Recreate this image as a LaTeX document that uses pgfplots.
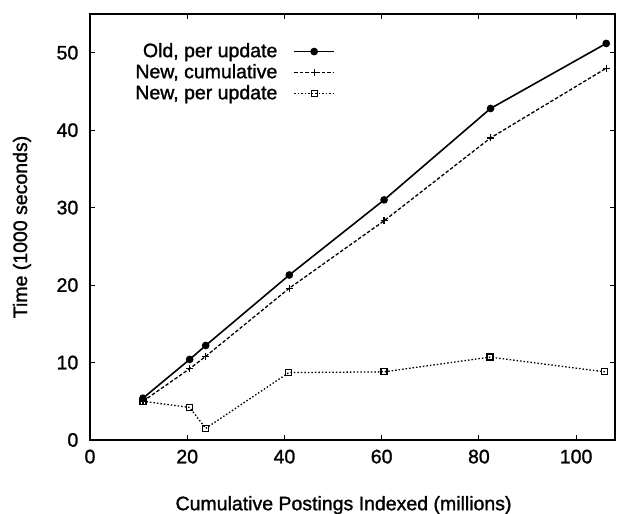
\documentclass[border=0pt]{standalone}
\usepackage{fontspec}
\setmainfont{Liberation Sans}[FakeBold=1.3]
\usepackage{pgfplots}
\pgfplotsset{compat=1.18}
\begin{document}
\fontsize{19.5bp}{22bp}\selectfont
\begin{tikzpicture}
\begin{axis}[
  scale only axis,
  width=525bp, height=426bp,
  xmin=0, xmax=108, ymin=0, ymax=55,
  xtick={0,20,40,60,80,100},
  ytick={0,10,20,30,40,50},
  /pgf/number format/assume math mode=true,
  tick style={black, line width=0.9bp},
  major tick length=5bp,
  axis line style={line width=1.2bp},
  xticklabel style={yshift=-3bp},
  yticklabel style={xshift=-5bp},
  every axis y label/.style={at={(axis description cs:-0.1295,0.5)},rotate=90,anchor=center},
  every axis x label/.style={at={(axis description cs:0.483,-0.153)},anchor=center},
  xlabel={Cumulative Postings Indexed (millions)},
  ylabel={Time (1000 seconds)},
  legend style={draw=none, fill=none, at={(axis description cs:0.467,0.937)}, anchor=north east,
    row sep=0bp, column sep=14bp, inner sep=0pt, font=\fontsize{19.5bp}{20bp}\selectfont},
  legend cell align=right,
  legend plot pos=right,
  legend image code/.code={\draw[mark repeat=2,mark phase=2,#1] plot coordinates {(0bp,0bp) (20bp,0bp) (40bp,0bp)};},
]
\addplot[black, line width=1.6bp, mark=*, mark size=3bp] coordinates {
 (10.9,5.4) (20.5,10.4) (23.8,12.2) (41,21.3) (60.5,31.0) (82.4,42.8) (106.2,51.2)};
\addlegendentry{Old, per update}
\addplot[black, line width=1.3bp, dash pattern=on 3.5bp off 2bp, mark=+, mark size=3.5bp, mark options={solid}] coordinates {
 (10.9,5.0) (20.5,9.2) (23.8,10.8) (41,19.6) (60.5,28.3) (82.4,39.0) (106.2,48.0)};
\addlegendentry{New, cumulative}
\addplot[black, line width=1.3bp, dash pattern=on 1.5bp off 2bp, mark=square, mark size=3bp, mark options={solid, line width=1.3bp}] coordinates {
 (10.9,5.0) (20.5,4.2) (23.8,1.5) (40.9,8.7) (60.5,8.8) (82.3,10.7) (105.9,8.8)};
\addlegendentry{New, per update}
\coordinate (bl) at (rel axis cs:0,0);
\coordinate (tr) at (rel axis cs:1,1);
\end{axis}
\pgfresetboundingbox
\path ([shift={(-90bp,-74bp)}]bl) rectangle ([shift={(2bp,14bp)}]tr);
\end{tikzpicture}
\end{document}
